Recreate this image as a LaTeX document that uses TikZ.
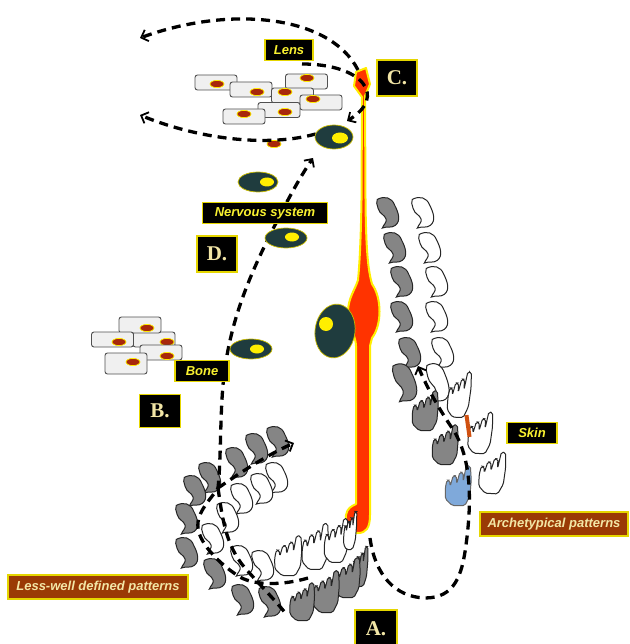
\documentclass[tikz,border=0pt]{standalone}
\usepackage{fontspec}
\newfontfamily\labsans{Liberation Sans}
\newfontfamily\labserif{Liberation Serif}
\usetikzlibrary{arrows.meta}
\definecolor{toothgray}{HTML}{858585}
\definecolor{toothline}{HTML}{262626}
\definecolor{crest}{HTML}{1F3C3E}
\definecolor{nred}{HTML}{FF3300}
\definecolor{nyellow}{HTML}{FFEE00}
\definecolor{cellfill}{HTML}{F0F0F0}
\definecolor{cellline}{HTML}{505050}
\definecolor{nucred}{HTML}{A8280A}
\definecolor{boxbrown}{HTML}{9A3A05}
\definecolor{labyellow}{HTML}{F8F030}
\definecolor{paleyellow}{HTML}{F2E6A6}
\definecolor{bluetooth}{HTML}{7FA9DA}
\definecolor{sliver}{HTML}{D05010}

\tikzset{
  bean/.pic={
    \path[pic actions] (-7,-13) .. controls (0,-15) and (6,-12) .. (7,-5)
      .. controls (9,2) and (10,10) .. (4,13)
      .. controls (0,15) and (-4,12) .. (-8,13)
      .. controls (-6,10) and (-3,9) .. (-3,6)
      .. controls (-3,2) and (-8,0) .. (-8,-5)
      .. controls (-8,-9) and (-9,-11) .. (-7,-13) -- cycle;
  },
  crown/.pic={
    \path[pic actions, rounded corners=1.8pt]
      (-12,2) -- (-11,-6) -- (-8.5,-6) -- (-7.5,0) -- (-5.5,-11) -- (-2.5,-11)
      -- (-1.5,-3) -- (0.5,-15) -- (3.5,-15) -- (4.5,-6) -- (6,-22) -- (10,-22)
      -- (12,-8) -- (12,8) -- (8,18) -- (-4,19) -- (-11,13) -- cycle;
  },
  graytooth/.style={fill=toothgray, draw=toothline, line width=1pt},
  whitetooth/.style={fill=white, draw=toothline, line width=1pt},
  bluetoothst/.style={fill=bluetooth, draw=toothline!70, line width=1pt},
  lenscell/.style={fill=cellfill, draw=cellline, line width=0.9pt, rounded corners=2.5pt},
  nucleus/.style={fill=nucred, draw=nyellow, line width=0.7pt},
  crestcell/.style={fill=crest, draw=nyellow!80!black, line width=0.7pt},
  crestdot/.style={fill=nyellow},
  dsh/.style={draw=black, line width=3.3pt, dash pattern=on 9pt off 6pt},
  arr/.style={-{Straight Barb[length=6pt,width=12pt,line width=1.8pt]}},
  lab/.style={draw=nyellow!90!black, line width=1.1pt, fill=black, text=labyellow,
    font=\labsans\bfseries\itshape\fontsize{13}{15}\selectfont,
    minimum height=21pt, inner sep=2pt},
  brownlab/.style={lab, fill=boxbrown, text=paleyellow, minimum height=24pt},
  letterbox/.style={draw=nyellow!90!black, line width=1.1pt, fill=black, text=paleyellow,
    font=\labserif\bfseries\fontsize{21}{24}\selectfont,
    minimum width=40pt, minimum height=36pt, inner sep=1pt},
}

\begin{document}
\begin{tikzpicture}[x=1pt,y=-1pt]
\useasboundingbox (0,0) rectangle (629,644);
\fill[white] (0,0) rectangle (629,644);

% ---------- lens cells ----------
\foreach \cx/\cy/\nx/\ny in {216/82.5/217/84, 306.5/81.5/307/78, 251/89.5/257/92,
    292.5/95.5/285/92, 321/102.5/313/99, 279/110/285/112, 244/116.5/244/114}{
  \draw[lenscell] (\cx-21,\cy-7.5) rectangle (\cx+21,\cy+7.5);
  \draw[nucleus] (\nx,\ny) ellipse [x radius=7, y radius=3.6];
}
\draw[nucleus] (274,144) ellipse [x radius=7, y radius=3.6];

% ---------- bone cells ----------
\foreach \cx/\cy/\h/\nx/\ny in {154/339.5/15/167/342, 140/325/16/147/328, 112.5/339.5/15/119/342,
    161/352.5/15/167/356, 126/363.5/21/133/362}{
  \draw[lenscell] (\cx-21,\cy-\h/2) rectangle (\cx+21,\cy+\h/2);
  \draw[nucleus] (\nx,\ny) ellipse [x radius=7, y radius=3.6];
}

% ---------- the long red cell ----------
\path[fill=nred, draw=nyellow, line width=2pt, line join=round]
  (356,72) -- (366,68) -- (370,84) -- (365,96) -- (365.5,200)
  .. controls (366,250) and (368,270) .. (372,284)
  .. controls (382,298) and (382,325) .. (372,338) -- (370,346) -- (370,515)
  .. controls (370,528) and (366,533) .. (358,533)
  .. controls (350,533) and (345,525) .. (346,515)
  .. controls (347,508) and (352,506) .. (356,504) -- (356,346)
  .. controls (356,336) and (348,326) .. (348,312)
  .. controls (348,298) and (355,290) .. (358,280)
  .. controls (360,260) and (361,230) .. (361.5,200) -- (362,97) -- (354,86) -- cycle;

% ---------- skin column ----------
\foreach \x/\y in {388/212, 395/247, 402/281, 402/316, 410/352}
  \pic[graytooth, rotate=12, scale=1.12] at (\x,\y) {bean};
\foreach \x/\y in {423/212, 430/247, 437/281, 437/316, 443/352}
  \pic[whitetooth, rotate=12, scale=1.12] at (\x,\y) {bean};
\pic[whitetooth, rotate=10, yscale=1.4, xscale=1.15] at (438,382) {bean};
\pic[graytooth, rotate=12, yscale=1.4, xscale=1.2] at (405,382) {bean};
\pic[whitetooth, rotate=-8, xscale=0.9, yscale=1.15] at (459,396) {crown};
\pic[graytooth, rotate=-5, xscale=1.05] at (425,412) {crown};
\pic[whitetooth, rotate=-8, xscale=0.95, yscale=1.05] at (480,434) {crown};
\pic[graytooth, rotate=-5, xscale=1.05] at (445,446) {crown};
\fill[sliver, rotate around={8:(468,426)}] (466,415) rectangle (470,437);
\pic[whitetooth, rotate=-8, xscale=1.05, yscale=1.05] at (492,474) {crown};
\pic[bluetoothst, rotate=-5, xscale=1.05] at (458,487) {crown};

% ---------- lower left arc of teeth ----------
\foreach \x/\y in {278/441, 257/448, 237/462, 210/477, 195/490, 187/518, 187/552,
    215/573, 243/599, 270/601}
  \pic[graytooth, rotate=12, scale=1.12] at (\x,\y) {bean};
\foreach \x/\y in {277/477, 262/488, 242/498, 228/517, 213/538, 242/560, 263/565}
  \pic[whitetooth, rotate=12, scale=1.12] at (\x,\y) {bean};
\pic[whitetooth, rotate=-5, xscale=1.1, yscale=1.0] at (288,557) {crown};
\pic[whitetooth, rotate=-5, xscale=1.05, yscale=1.15] at (315,548) {crown};
\pic[whitetooth, rotate=-5, xscale=0.95, yscale=1.1] at (336,542) {crown};
\pic[whitetooth, rotate=-5, xscale=0.5, yscale=0.95] at (350,532) {crown};
\pic[graytooth, rotate=-5, xscale=0.6, yscale=1.0] at (360,568) {crown};
\pic[graytooth, rotate=-5, xscale=1.05, yscale=1.0] at (347,579) {crown};
\pic[graytooth, rotate=-5, xscale=1.05, yscale=1.05] at (326,593) {crown};
\pic[graytooth, rotate=-5, xscale=1.0, yscale=0.95] at (302,603) {crown};

% ---------- migration routes ----------
\coordinate (cTop) at (358,70);
\coordinate (farTop) at (140,38);
\coordinate (lensEnd) at (302,64);
\coordinate (nearCell) at (347,121);
\coordinate (lowStart) at (330,129);
\coordinate (farLow) at (140,115);
\coordinate (rowEnd) at (308,578);
\coordinate (fork) at (218,488);
\coordinate (crestTop) at (313,158);
\coordinate (rowTip) at (294,443);
\coordinate (innerEnd) at (287,615);
\coordinate (footStart) at (370,538);
\coordinate (skinTip) at (418,366);

\draw[dsh,arr] (cTop) .. controls (330,15) and (230,5) .. (farTop);
\draw[dsh,arr] (lensEnd) .. controls (362,64) and (388,96) .. (nearCell);
\draw[dsh,arr] (lowStart) .. controls (280,150) and (200,140) .. (farLow);
\draw[dsh,arr] (rowEnd) .. controls (285,585) and (255,586) .. (240,577)
  .. controls (222,566) and (200,545) .. (198,528)
  .. controls (196,512) and (212,498) .. (fork)
  .. controls (221,460) and (220,420) .. (223,385)
  .. controls (228,330) and (245,285) .. (270,235)
  .. controls (285,205) and (298,180) .. (crestTop);
\draw[dsh,arr] (fork) .. controls (240,473) and (265,456) .. (rowTip);
\draw[dsh] (fork) .. controls (222,515) and (225,545) .. (245,568)
  .. controls (260,585) and (275,600) .. (innerEnd);
\draw[dsh,arr] (footStart) .. controls (375,575) and (395,597) .. (425,598)
  .. controls (455,598) and (462,575) .. (466,545)
  .. controls (472,500) and (472,455) .. (450,425)
  .. controls (440,410) and (428,390) .. (skinTip);

% ---------- crest cells ----------
\draw[crestcell] (334,137) ellipse [x radius=19, y radius=12];
\fill[crestdot] (340,138) ellipse [x radius=8, y radius=5.5];
\draw[crestcell] (258,182) ellipse [x radius=20, y radius=10];
\fill[crestdot] (267,182) ellipse [x radius=7, y radius=4.5];
\draw[crestcell] (286,238) ellipse [x radius=21, y radius=10];
\fill[crestdot] (292,237) ellipse [x radius=7, y radius=4.5];
\draw[crestcell] (251,349) ellipse [x radius=21, y radius=10];
\fill[crestdot] (257,349) ellipse [x radius=7, y radius=4.5];
\draw[crestcell, rotate around={-8:(335,331)}] (335,331) ellipse [x radius=20, y radius=27];
\fill[crestdot] (326,324) circle [radius=7];

% ---------- labels ----------
\node[lab, minimum width=48pt] (lens) at (289,50) {Lens};
\node[letterbox] (C) at (397,78) {C.};
\node[lab, minimum width=125pt] (nerv) at (265,213) {Nervous system};
\node[letterbox] (D) at (217,254) {D.};
\node[lab, minimum width=54pt] (bone) at (202,371) {Bone};
\node[letterbox, minimum width=41pt, minimum height=33pt] (B) at (160,411) {B.};
\node[lab, minimum width=50pt] (skin) at (532,433) {Skin};
\node[brownlab, minimum width=148pt] (arch) at (554,524) {Archetypical patterns};
\node[brownlab, minimum width=180pt] (less) at (98,587) {Less-well defined patterns};
\node[letterbox, minimum width=42pt, minimum height=38pt] (A) at (376,629) {A.};
\end{tikzpicture}
\end{document}
